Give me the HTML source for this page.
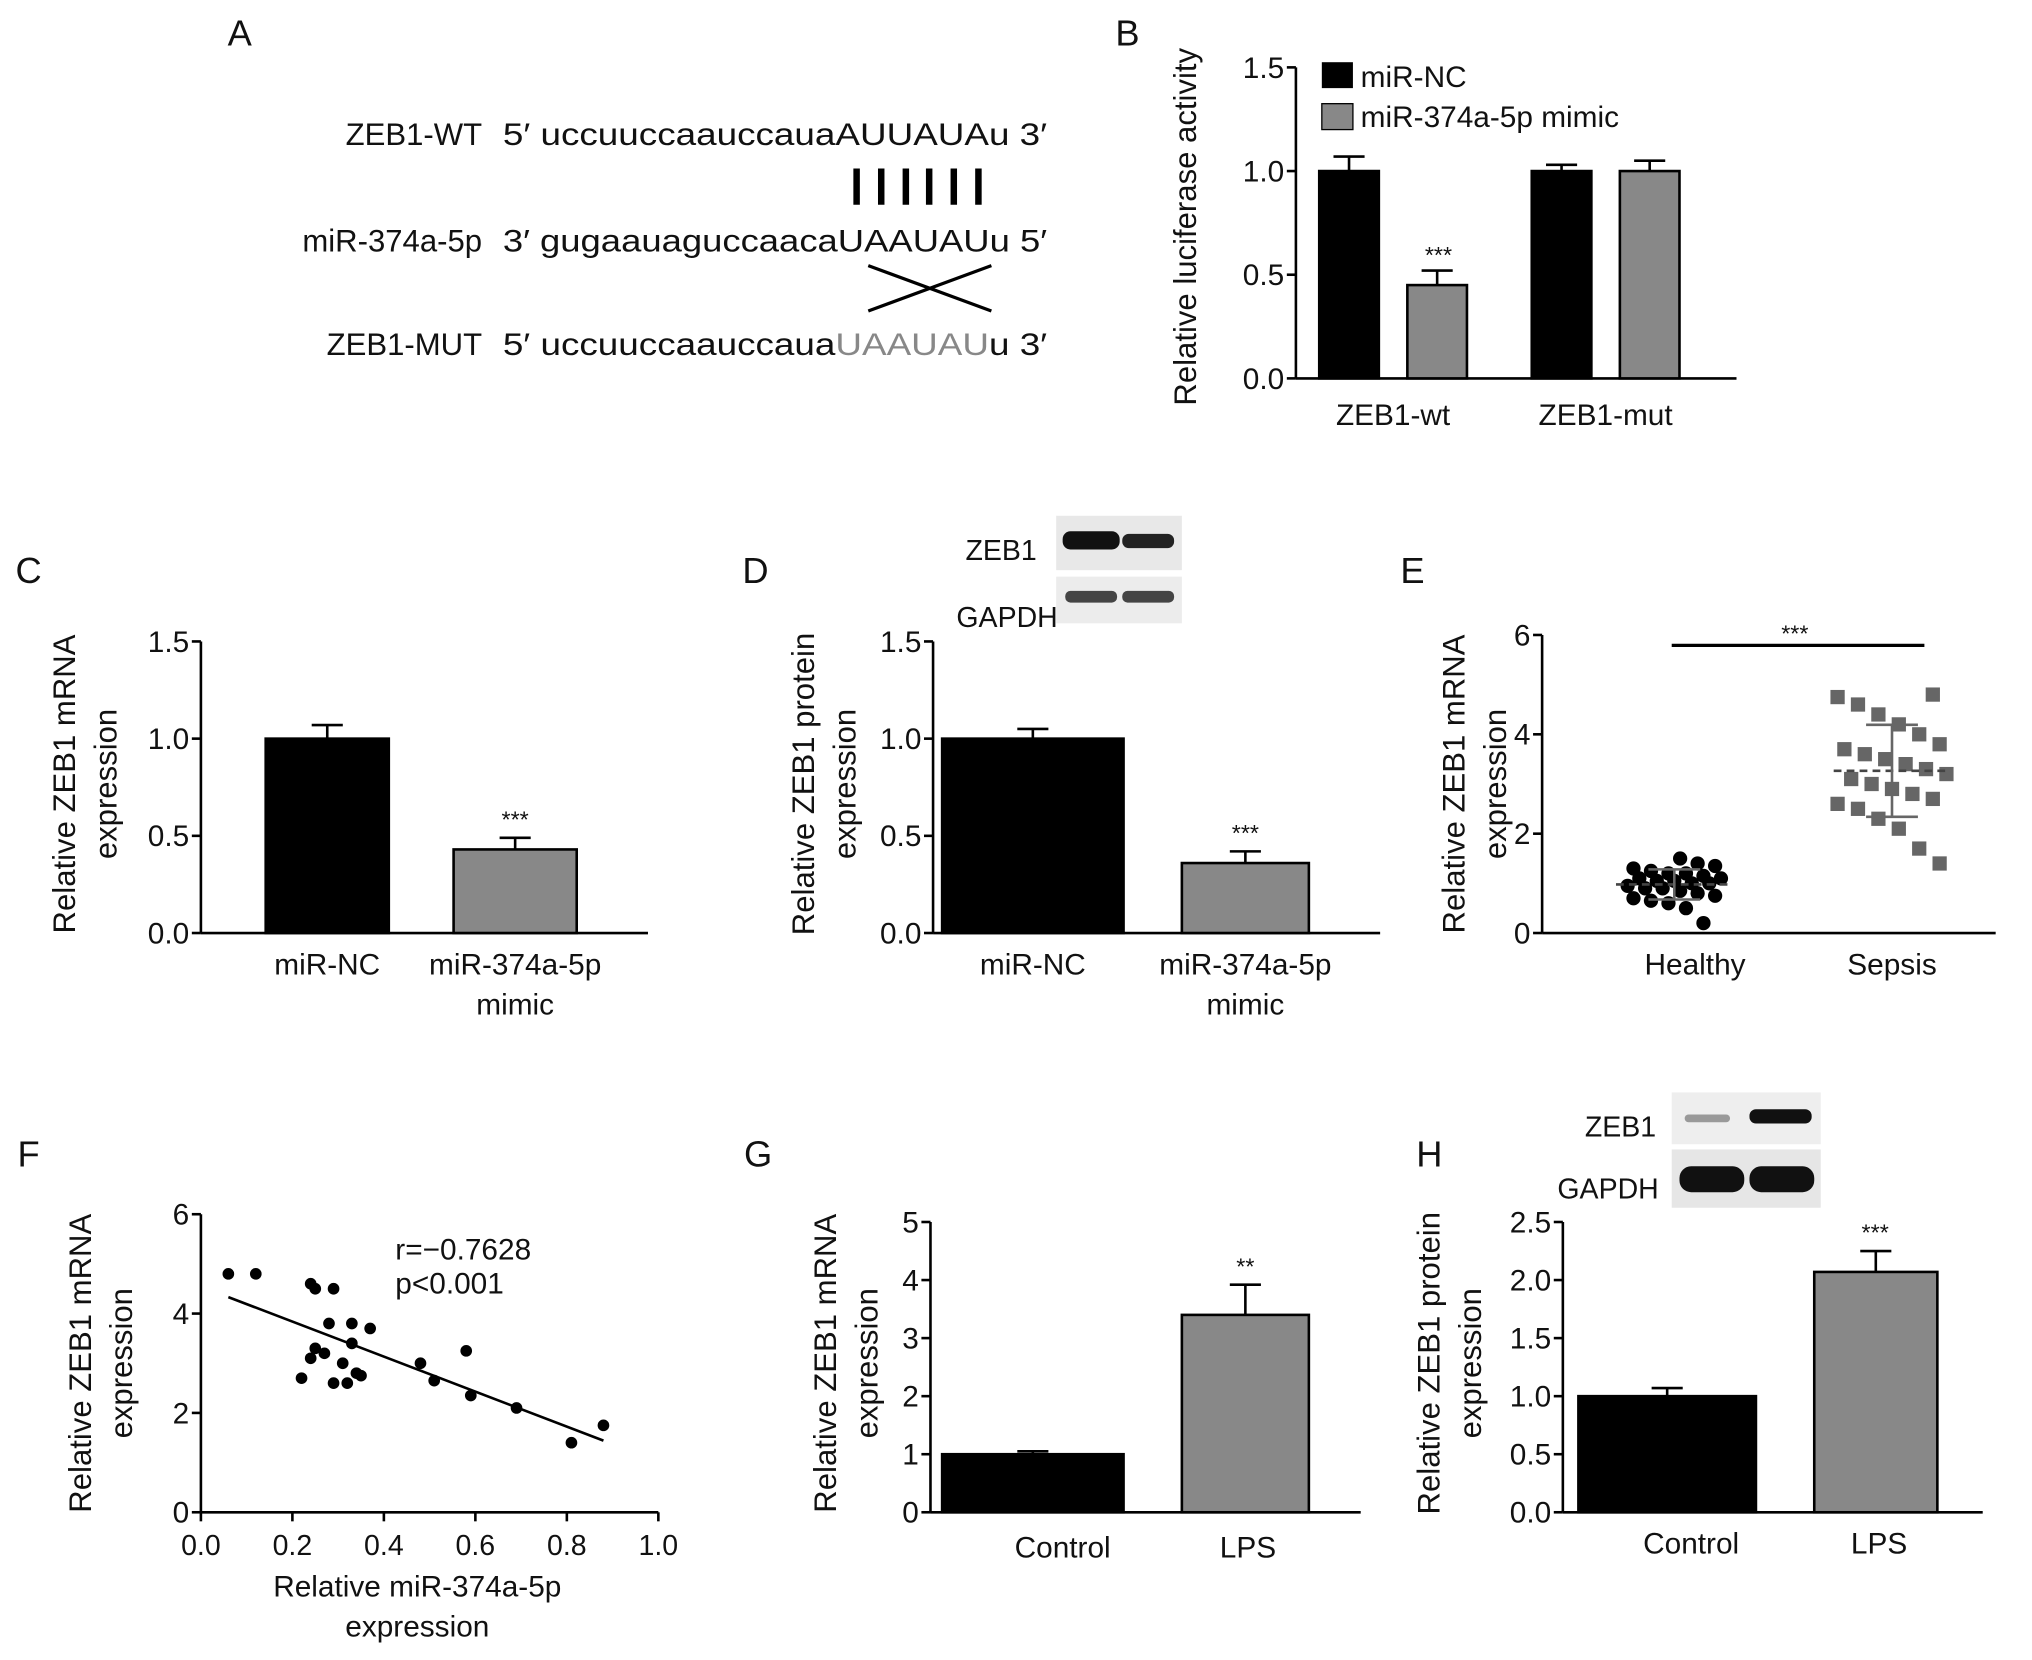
<!DOCTYPE html>
<html><head><meta charset="utf-8"><style>
html,body{margin:0;padding:0;background:#fff}
svg{display:block}
text{font-family:"Liberation Sans",Arial,sans-serif;fill:#111}
</style></head><body>
<svg id="fig" width="2032" height="1660" viewBox="0 0 1568 1281" xmlns="http://www.w3.org/2000/svg">
<g id="A">
<text x="185" y="35" font-size="28" text-anchor="middle">A</text>
<text x="372" y="112" font-size="24" text-anchor="end">ZEB1-WT</text>
<text x="388" y="112" font-size="24" textLength="420" lengthAdjust="spacingAndGlyphs">5′ uccuuccaauccauaAUUAUAu 3′</text>
<text x="372" y="194" font-size="24" text-anchor="end">miR-374a-5p</text>
<text x="388" y="194" font-size="24" textLength="420" lengthAdjust="spacingAndGlyphs">3′ gugaauaguccaacaUAAUAUu 5′</text>
<text x="372" y="274" font-size="24" text-anchor="end">ZEB1-MUT</text>
<text x="388" y="274" font-size="24" textLength="420" lengthAdjust="spacingAndGlyphs">5′ uccuuccaauccaua<tspan fill="#888">UAAUAU</tspan>u 3′</text>
<g stroke="#000" stroke-width="5">
<line x1="661" y1="130" x2="661" y2="158"/><line x1="680" y1="130" x2="680" y2="158"/><line x1="699" y1="130" x2="699" y2="158"/><line x1="717" y1="130" x2="717" y2="158"/><line x1="736" y1="130" x2="736" y2="158"/><line x1="755" y1="130" x2="755" y2="158"/>
</g>
<g stroke="#000" stroke-width="2.5"><line x1="670" y1="240" x2="765" y2="205"/><line x1="670" y1="205" x2="765" y2="240"/></g>
</g>
<g id="charts"></g>
</svg>
<script>
// ---- data ----
const bCategories=["ZEB1-wt","ZEB1-mut"];
const bNC=[1.0,1.0], bNCerr=[0.07,0.03];
const bMimic=[0.45,1.0], bMimicErr=[0.07,0.05];
const bTicks=[0,0.5,1.0,1.5];
const cValues=[1.0,0.43], cErr=[0.07,0.06];
const dValues=[1.0,0.36], dErr=[0.05,0.06];
const cdTicks=[0,0.5,1.0,1.5];
const eHealthy=[0.2,0.5,0.6,0.65,0.7,0.75,0.8,0.85,0.9,0.9,0.95,1.0,1.0,1.05,1.05,1.1,1.1,1.15,1.2,1.2,1.25,1.3,1.35,1.4,1.5];
const eSepsis=[1.4,1.7,2.1,2.3,2.5,2.6,2.7,2.8,2.9,3.0,3.1,3.2,3.3,3.4,3.5,3.6,3.7,3.8,4.0,4.2,4.4,4.6,4.75,4.8];
const eTicks=[0,2,4,6];
const fX=[0.06,0.12,0.24,0.25,0.29,0.28,0.33,0.37,0.22,0.24,0.25,0.27,0.29,0.31,0.32,0.33,0.34,0.35,0.48,0.51,0.58,0.59,0.69,0.81,0.88];
const fY=[4.8,4.8,4.6,4.5,4.5,3.8,3.8,3.7,2.7,3.1,3.3,3.2,2.6,3.0,2.6,3.4,2.8,2.75,3.0,2.65,3.25,2.35,2.1,1.4,1.75];
const fXTicks=[0,0.2,0.4,0.6,0.8,1.0], fYTicks=[0,2,4,6];
const gValues=[1.0,3.4], gErr=[0.05,0.52], gTicks=[0,1,2,3,4,5];
const hValues=[1.0,2.07], hErr=[0.07,0.18], hTicks=[0,0.5,1.0,1.5,2.0,2.5];

const NS="http://www.w3.org/2000/svg";
const root=document.getElementById('charts');
function el(tag,attrs,parent,txt){const e=document.createElementNS(NS,tag);for(const k in attrs)e.setAttribute(k,attrs[k]);if(txt!==undefined)e.textContent=txt;(parent||root).appendChild(e);return e;}
function panel(name){const g=el('g',{});


return g;}
function yAxis(g,x,y0,y1,ticks,vmax,fmt){
 const sc=v=>y0-(v/vmax)*(y0-y1);
 el('line',{x1:x,y1:y0,x2:x,y2:y1,stroke:'#000','stroke-width':2},g);
 ticks.forEach(t=>{el('line',{x1:x-7,y1:sc(t),x2:x,y2:sc(t),stroke:'#000','stroke-width':2},g);
 const tx=el('text',{x:x-9,y:sc(t)+8,'font-size':23,'text-anchor':'end'},g,fmt(t));
 
 });
 return sc;}
function yTitle(g,x,y,lines){lines.forEach((l,i)=>{const t=el('text',{x:0,y:0,'font-size':24,'text-anchor':'middle',transform:`translate(${x+8+i*32},${y}) rotate(-90)`},g,l);
 
 });}
function bar(g,x,w,v,err,sc,fill,name){
 const r=el('rect',{x:x,y:sc(v),width:w,height:sc(0)-sc(v),fill:fill,stroke:'#000','stroke-width':2},g);
 
 
 const cx=x+w/2;
 el('line',{x1:cx,y1:sc(v),x2:cx,y2:sc(v+err),stroke:'#000','stroke-width':2},g);
 el('line',{x1:cx-12,y1:sc(v+err),x2:cx+12,y2:sc(v+err),stroke:'#000','stroke-width':2},g);}
function label(g,x,y,s,size,anchor){return el('text',{x:x,y:y,'font-size':size||23,'text-anchor':anchor||'middle'},g,s);}
const f1=t=>t.toFixed(1), f0=t=>String(t);

// B
{const g=panel('panel-b-luciferase');label(g,870,35,'B',28);
 const sc=yAxis(g,1000,292,52,bTicks,1.5,f1);
 el('line',{x1:1000,y1:292,x2:1340,y2:292,stroke:'#000','stroke-width':2},g);
 const gx=[1018,1182];
 bCategories.forEach((c,i)=>{bar(g,gx[i],46,bNC[i],bNCerr[i],sc,'#000','bar-mir-nc');
  bar(g,gx[i]+68,46,bMimic[i],bMimicErr[i],sc,'#888','bar-mimic');
  label(g,gx[i]+57,328,c,23);});
 label(g,1110,203,'***',18);
 yTitle(g,915,175,['Relative luciferase activity']);
 el('rect',{x:1020,y:48,width:24,height:20,fill:'#000'},g);label(g,1050,67,'miR-NC',23,'start');
 el('rect',{x:1020,y:80,width:24,height:20,fill:'#888',stroke:'#000'},g);label(g,1050,98,'miR-374a-5p mimic',23,'start');}
// C and D
function cd(name,letter,lx,ax,vals,errs,bx,bw,title,tx){const g=panel(name);label(g,lx,450,letter,28);
 const sc=yAxis(g,ax,720,495,cdTicks,1.5,f1);
 el('line',{x1:ax,y1:720,x2:ax+345,y2:720,stroke:'#000','stroke-width':2},g);
 bar(g,bx[0],bw[0],vals[0],errs[0],sc,'#000','bar-mir-nc');
 bar(g,bx[1],bw[1],vals[1],errs[1],sc,'#888','bar-mimic');
 label(g,bx[1]+bw[1]/2,sc(vals[1]+errs[1])-8,'***',18);
 label(g,bx[0]+bw[0]/2,752,'miR-NC');label(g,bx[1]+bw[1]/2,752,'miR-374a-5p');label(g,bx[1]+bw[1]/2,783,'mimic');
 yTitle(g,tx,605,title);return g;}
cd('panel-c-mrna','C',22,155,cValues,cErr,[205,350],[95,95],['Relative ZEB1 mRNA','expression'],50);
{const g=cd('panel-d-protein','D',583,720,dValues,dErr,[727,912],[140,98],['Relative ZEB1 protein','expression'],620);
 label(g,800,432,'ZEB1',22,'end');label(g,738,484,'GAPDH',22,'start');
 el('rect',{x:815,y:398,width:97,height:42,fill:'#e8e8e8'},g);
 el('rect',{x:820,y:410,width:44,height:14,rx:6,fill:'#111'},g);el('rect',{x:866,y:412,width:40,height:11,rx:5,fill:'#222'},g);
 el('rect',{x:815,y:445,width:97,height:36,fill:'#ececec'},g);
 el('rect',{x:822,y:456,width:40,height:9,rx:4,fill:'#444'},g);el('rect',{x:866,y:456,width:40,height:9,rx:4,fill:'#444'},g);}
// E
{const g=panel('panel-e-scatter');label(g,1090,450,'E',28);
 const sc=yAxis(g,1190,720,490,eTicks,6,f0);
 el('line',{x1:1190,y1:720,x2:1540,y2:720,stroke:'#000','stroke-width':2},g);
 const jit=i=>(((i*7919+13)%17)-8)/8;
 eHealthy.forEach((v,i)=>{const c=el('circle',{cx:1292+jit(i)*36,cy:sc(v),r:5.5,fill:'#000'},g);
  
  });
 eSepsis.forEach((v,i)=>{const s=el('rect',{x:1460+jit(i+5)*42-5.5,y:sc(v)-5.5,width:11,height:11,fill:'#666'},g);
  
  });
 function stats(a,cx){const m=a.reduce((s,v)=>s+v,0)/a.length;const sd=Math.sqrt(a.reduce((s,v)=>s+(v-m)**2,0)/(a.length-1));
  el('line',{x1:cx-45,y1:sc(m),x2:cx+45,y2:sc(m),stroke:'#444','stroke-width':2,'stroke-dasharray':'6,4'},g);
  el('line',{x1:cx,y1:sc(m-sd),x2:cx,y2:sc(m+sd),stroke:'#666','stroke-width':2},g);
  [m-sd,m+sd].forEach(v=>el('line',{x1:cx-20,y1:sc(v),x2:cx+20,y2:sc(v),stroke:'#666','stroke-width':2},g));}
 stats(eHealthy,1292);stats(eSepsis,1460);
 el('line',{x1:1290,y1:498,x2:1485,y2:498,stroke:'#000','stroke-width':2.5},g);label(g,1385,495,'***',18);
 label(g,1308,752,'Healthy');label(g,1460,752,'Sepsis');
 yTitle(g,1122,605,['Relative ZEB1 mRNA','expression']);}
// F
{const g=panel('panel-f-correlation');label(g,22,900,'F',28);
 const sc=yAxis(g,155,1167,937,fYTicks,6,f0);
 const sx=v=>155+v*353;
 el('line',{x1:155,y1:1167,x2:508,y2:1167,stroke:'#000','stroke-width':2},g);
 fXTicks.forEach(t=>{el('line',{x1:sx(t),y1:1167,x2:sx(t),y2:1174,stroke:'#000','stroke-width':2},g);label(g,sx(t),1200,t.toFixed(1),22);});
 fX.forEach((x,i)=>{const c=el('circle',{cx:sx(x),cy:sc(fY[i]),r:4.5,fill:'#000'},g);
  
  });
 const n=fX.length,mx=fX.reduce((a,b)=>a+b)/n,my=fY.reduce((a,b)=>a+b)/n;
 let sxy=0,sxx=0;fX.forEach((x,i)=>{sxy+=(x-mx)*(fY[i]-my);sxx+=(x-mx)**2;});
 const b=sxy/sxx,a=my-b*mx;
 el('line',{x1:sx(0.06),y1:sc(a+b*0.06),x2:sx(0.88),y2:sc(a+b*0.88),stroke:'#000','stroke-width':2},g);
 label(g,305,972,'r=−0.7628',23,'start');label(g,305,998,'p<0.001',23,'start');
 label(g,322,1232,'Relative miR-374a-5p');label(g,322,1263,'expression');
 yTitle(g,62,1052,['Relative ZEB1 mRNA','expression']);}
// G
{const g=panel('panel-g-lps-mrna');label(g,585,900,'G',28);
 const ax=718;
 const sc=yAxis(g,ax,1167,943,gTicks,5,f0);
 el('line',{x1:ax,y1:1167,x2:1050,y2:1167,stroke:'#000','stroke-width':2},g);
 bar(g,727,140,gValues[0],gErr[0],sc,'#000','bar-control');
 bar(g,912,98,gValues[1],gErr[1],sc,'#888','bar-lps');
 label(g,961,sc(gValues[1]+gErr[1])-8,'**',18);
 label(g,820,1202,'Control');label(g,963,1202,'LPS');
 yTitle(g,637,1052,['Relative ZEB1 mRNA','expression']);}
// H
{const g=panel('panel-h-lps-protein');label(g,1103,900,'H',28);
 const ax=1206;
 const sc=yAxis(g,ax,1167,943,hTicks,2.5,f1);
 el('line',{x1:ax,y1:1167,x2:1530,y2:1167,stroke:'#000','stroke-width':2},g);
 bar(g,1218,137,hValues[0],hErr[0],sc,'#000','bar-control');
 bar(g,1400,95,hValues[1],hErr[1],sc,'#888','bar-lps');
 label(g,1447,sc(hValues[1]+hErr[1])-8,'***',18);
 label(g,1305,1199,'Control');label(g,1450,1199,'LPS');
 yTitle(g,1103,1052,['Relative ZEB1 protein','expression']);
 label(g,1278,877,'ZEB1',22,'end');label(g,1280,925,'GAPDH',22,'end');
 el('rect',{x:1290,y:843,width:115,height:40,fill:'#eee'},g);
 el('rect',{x:1300,y:860,width:35,height:6,rx:3,fill:'#999'},g);el('rect',{x:1350,y:856,width:48,height:11,rx:5,fill:'#111'},g);
 el('rect',{x:1290,y:887,width:115,height:45,fill:'#e6e6e6'},g);
 el('rect',{x:1296,y:900,width:50,height:20,rx:9,fill:'#111'},g);el('rect',{x:1350,y:900,width:50,height:20,rx:9,fill:'#111'},g);}
</script>
</body></html>
